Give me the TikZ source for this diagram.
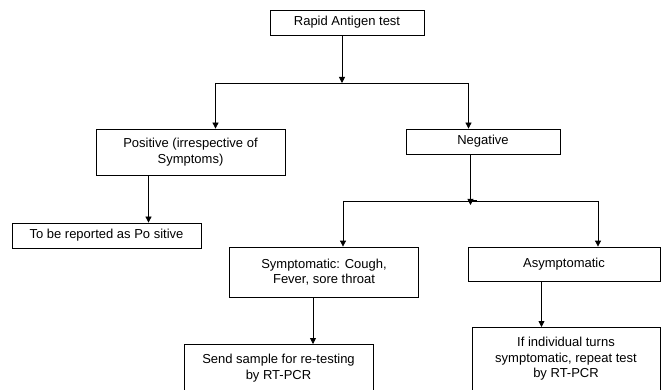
\documentclass[tikz,border=0pt]{standalone}
\usepackage{fontspec}
\setmainfont{Liberation Sans}
\usetikzlibrary{arrows.meta}
\begin{document}
\begin{tikzpicture}[x=1pt,y=-1pt,
  box/.style={draw, line width=0.8pt, align=center, inner sep=0pt,
    font=\fontsize{13}{15.5}\selectfont},
  openbox/.style={box, anchor=north, inner ysep=10pt},
  arr/.style={line width=0.8pt, -{Triangle[length=6pt,width=6pt]}},
  ln/.style={line width=0.8pt}]
\clip (0,0) rectangle (661,390);
\fill[white] (0,0) rectangle (661,390);

% boxes
\node[box, minimum width=154pt, minimum height=25pt] (top) at (347,22.5) {Rapid Antigen test};
\node[box, minimum width=189pt, minimum height=46pt] (pos) at (190.5,152) {Positive (irrespective of\\Symptoms)};
\node[box, minimum width=154pt, minimum height=25pt] (neg) at (483,141.5) {Negative};
\node[box, minimum width=189pt, minimum height=25pt] (rep) at (106.5,235.5) {To be reported as Po sitive};
\node[box, minimum width=189pt, minimum height=50pt] (sym) at (324,272) {Symptomatic: Cough,\\Fever, sore throat};
\node[box, minimum width=192pt, minimum height=34pt] (asym) at (564,264) {Asymptomatic};
\node[openbox, minimum width=189pt] (send) at (278.5,344) {Send sample for re-testing\\by RT-PCR\\[30pt]\mbox{}};
\node[openbox, minimum width=188pt] (ifi) at (566,327) {If individual turns\\symptomatic, repeat test\\by RT-PCR\\[30pt]\mbox{}};

% helper coordinates
\coordinate (j1) at (342,83);
\coordinate (j1l) at (215.5,83);
\coordinate (j1r) at (468.5,83);
\coordinate (j2) at (471,201);
\coordinate (j2l) at (343,201);
\coordinate (j2r) at (598,201);
\coordinate (mk) at (474.5,201);
\coordinate (xa) at (148.5,0);
\coordinate (xb) at (470.5,0);
\coordinate (xc) at (313,0);
\coordinate (xd) at (541.5,0);

% connectors
\draw[arr] (top.south -| j1) -- (j1);
\draw[ln] (j1l) -- (j1r);
\draw[arr] (j1l) -- (pos.north -| j1l);
\draw[arr] (j1r) -- (neg.north -| j1r);

\draw[arr] (pos.south -| xa) -- (rep.north -| xa);

\draw[arr] (neg.south -| xb) -- ([yshift=-4pt]j2 -| xb);
\draw[ln] (j2l) -- (j2r);
\draw[line width=2pt] ([xshift=-2.5pt]mk) -- ([xshift=2.5pt]mk);
\draw[arr] (j2l) -- (sym.north -| j2l);
\draw[arr] (j2r) -- (asym.north -| j2r);

\draw[arr] (sym.south -| xc) -- (send.north -| xc);
\draw[arr] (asym.south -| xd) -- (ifi.north -| xd);
\end{tikzpicture}
\end{document}
